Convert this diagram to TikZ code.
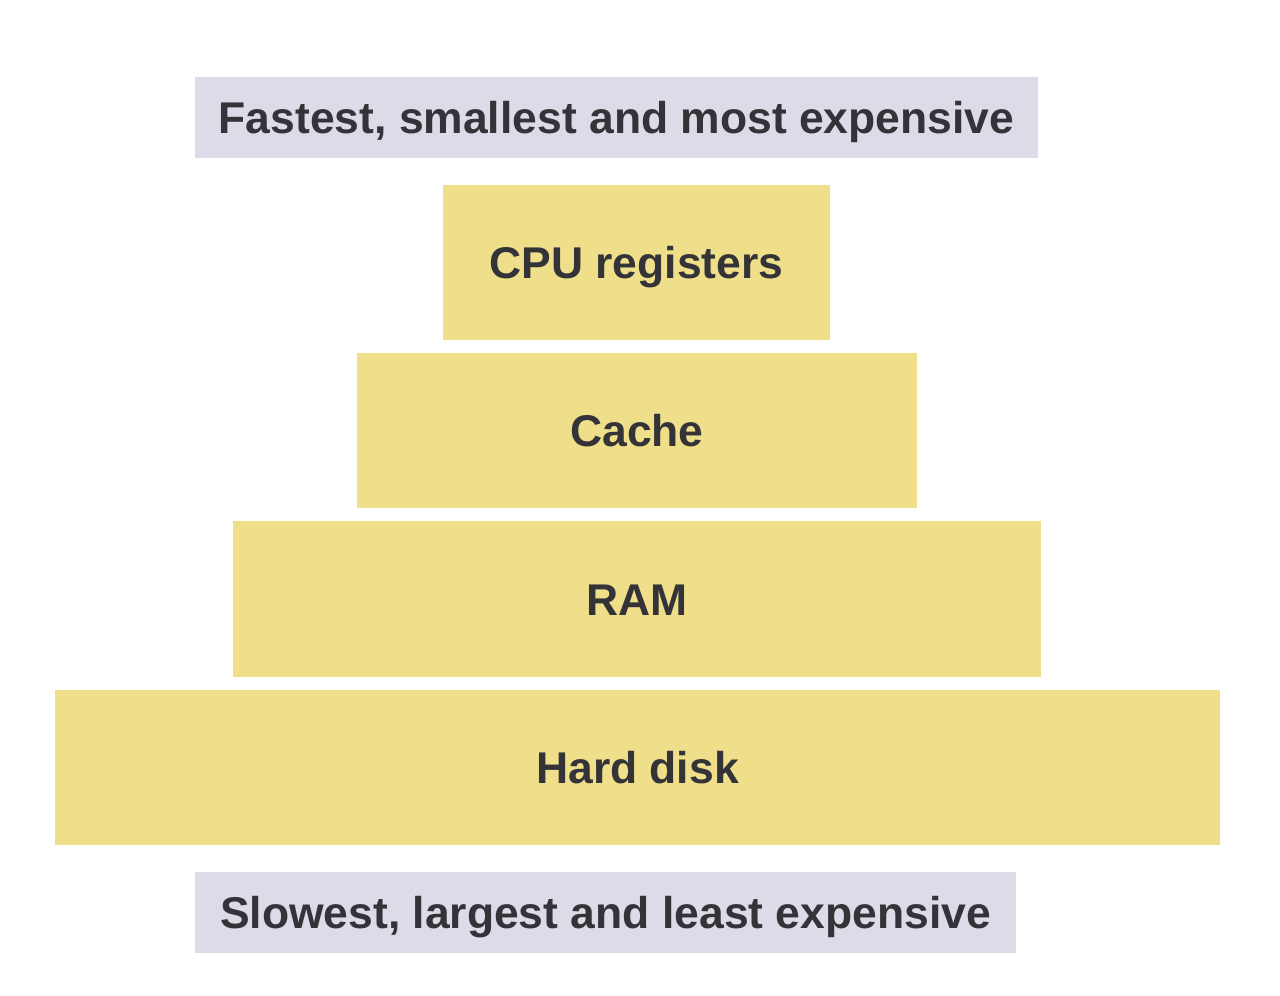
\documentclass[tikz,border=0pt]{standalone}
\usepackage{fontspec}
\setmainfont{Liberation Sans}
\definecolor{lblgray}{HTML}{DCDCE8}
\definecolor{tier}{HTML}{F0DF8A}
\definecolor{txt}{HTML}{333338}
\begin{document}
\begin{tikzpicture}[x=0.02cm,y=-0.02cm,
  box/.style={rectangle,inner sep=0pt,draw=none,text=txt,
    text height=18.2pt,text depth=0pt,
    font=\fontsize{25.3}{30}\selectfont\bfseries},
  lbl/.style={box,fill=lblgray},
  tierbox/.style={box,fill=tier}]
\useasboundingbox[fill=white] (0,0) rectangle (1280,995);
\node[lbl,minimum width=843*0.02cm,minimum height=81*0.02cm] (top) at (616.5,117.5) {Fastest, smallest and most expensive};
\node[tierbox,minimum width=387*0.02cm,minimum height=155*0.02cm] (cpu) at (636.5,262.5) {CPU registers};
\node[tierbox,minimum width=560*0.02cm,minimum height=155*0.02cm] (cache) at (637,430.5) {Cache};
\node[tierbox,minimum width=808*0.02cm,minimum height=156*0.02cm] (ram) at (637,599) {RAM};
\node[tierbox,minimum width=1165*0.02cm,minimum height=155*0.02cm] (disk) at (637.5,767.5) {Hard disk};
\node[lbl,minimum width=821*0.02cm,minimum height=81*0.02cm] (bot) at (605.5,912.5) {Slowest, largest and least expensive};
\end{tikzpicture}
\end{document}
